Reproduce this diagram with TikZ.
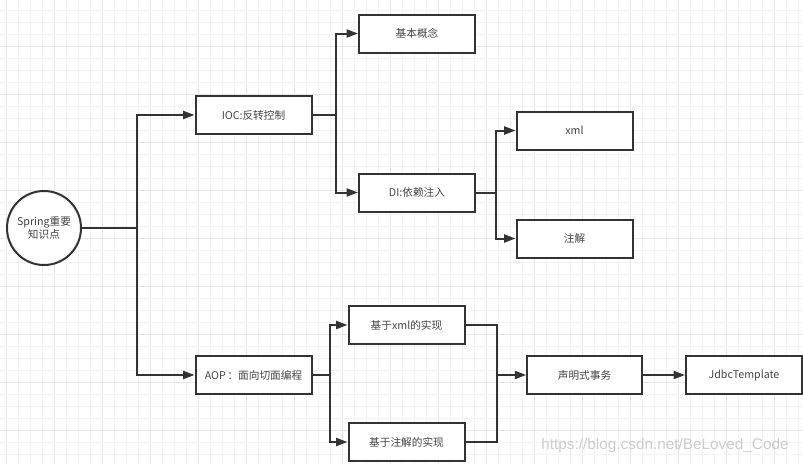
\documentclass[tikz,border=0pt]{standalone}
\usepackage{fontspec}
\setmainfont{Noto Sans CJK SC}
\newfontfamily\wmfont{Liberation Sans}
\usetikzlibrary{arrows.meta}
\definecolor{lnc}{HTML}{333333}
\definecolor{txc}{HTML}{444444}
\definecolor{gmin}{HTML}{F3F3F3}
\definecolor{gmaj}{HTML}{E6E6E6}
\begin{document}
\begin{tikzpicture}[x=0.75pt,y=-0.75pt,
  box/.style={draw=lnc,line width=1.5pt,fill=white,minimum width=87pt,minimum height=28.5pt,inner sep=0pt,text=txc,font=\fontsize{8}{10}\selectfont},
  circ/.style={draw=lnc,line width=1.5pt,fill=white,circle,minimum size=55.5pt,inner sep=0pt,text=txc,align=center,font=\fontsize{8}{10}\selectfont},
  conn/.style={draw=lnc,line width=1.5pt},
  arr/.style={conn,-{Triangle[length=8.5pt,width=6pt]}}]
\useasboundingbox (0,0) rectangle (803,464);
\fill[white] (0,0) rectangle (803,464);
% grid
\foreach \k in {0,...,66} {
  \pgfmathtruncatemacro{\m}{mod(\k,4)}
  \ifnum\m=0 \draw[gmaj,line width=0.75pt] (6+12*\k,0) -- (6+12*\k,464);
  \else \draw[gmin,line width=0.75pt] (6+12*\k,0) -- (6+12*\k,464); \fi
}
\foreach \k in {0,...,38} {
  \pgfmathtruncatemacro{\m}{mod(\k,4)}
  \ifnum\m=3 \draw[gmaj,line width=0.75pt] (0,10+12*\k) -- (803,10+12*\k);
  \else \draw[gmin,line width=0.75pt] (0,10+12*\k) -- (803,10+12*\k); \fi
}
% nodes
\node[circ] (root) at (44,228) {Spring重要\\知识点};
\node[box] (ioc) at (253.5,115) {IOC:反转控制};
\node[box] (basic) at (417,33.5) {基本概念};
\node[box] (di) at (417,192.5) {DI:依赖注入};
\node[box] (xml) at (574.5,130.5) {xml};
\node[box] (anno) at (574.5,238.5) {注解};
\node[box] (aop) at (253.5,375) {AOP\,：面向切面编程};
\node[box] (aopxml) at (406.5,325) {基于xml的实现};
\node[box] (aopanno) at (406.5,442) {基于注解的实现};
\node[box,minimum width=86pt] (tx) at (584.5,375) {声明式事务};
\node[box] (jdbc) at (744,375) {JdbcTemplate};
% junctions
\coordinate (j1) at (137,228);
\coordinate (j2) at (336,115);
\coordinate (j3) at (496,192.5);
\coordinate (j4) at (330,375);
\coordinate (j5a) at (497,325);
\coordinate (j5b) at (497,442);
\coordinate (j5) at (497,375);
% connectors
\draw[conn] (root.east) -- (j1);
\draw[arr] (j1) |- (ioc.west);
\draw[arr] (j1) |- (aop.west);
\draw[conn] (ioc.east) -- (j2);
\draw[arr] (j2) |- (basic.west);
\draw[arr] (j2) |- (di.west);
\draw[conn] (di.east) -- (j3);
\draw[arr] (j3) |- (xml.west);
\draw[arr] (j3) |- (anno.west);
\draw[conn] (aop.east) -- (j4);
\draw[arr] (j4) |- (aopxml.west);
\draw[arr] (j4) |- (aopanno.west);
\draw[conn] (aopxml.east) -- (j5a) -- (j5b) -- (aopanno.east);
\draw[arr] (j5) -- (tx.west);
\draw[arr] (tx.east) -- (jdbc.west);
% watermark
\node[text=gray!40,font=\wmfont\fontsize{11.5}{13}\selectfont,inner sep=0pt] (wm) at (665,446) {https://blog.csdn.net/BeLoved\_Code};
\end{tikzpicture}
\end{document}
